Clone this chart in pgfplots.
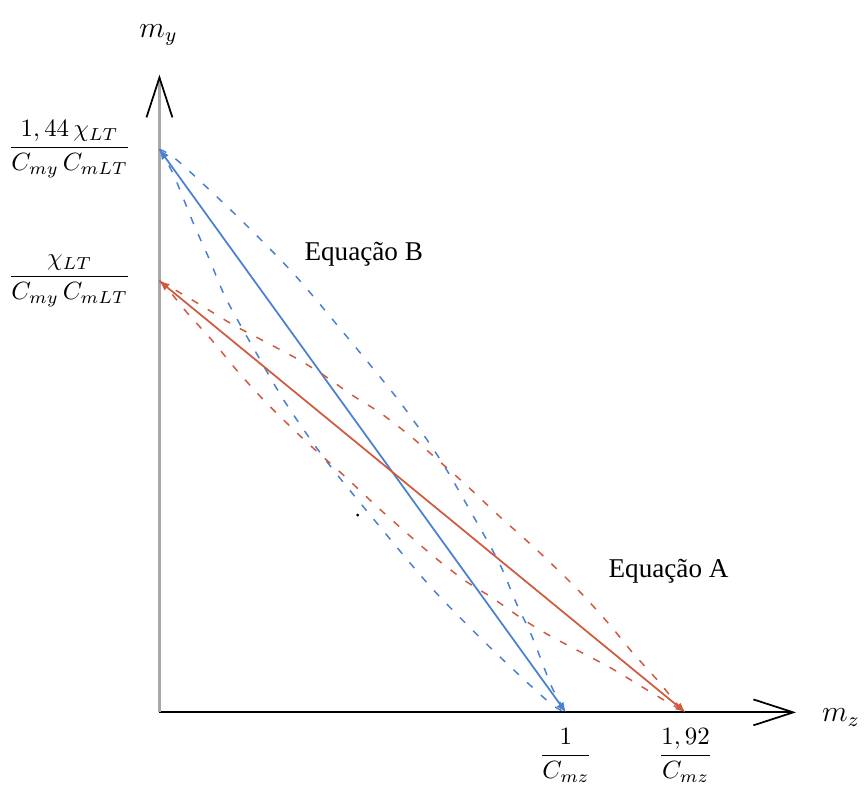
\documentclass[border=0pt]{standalone}
\usepackage{fontspec}
\setmainfont{Liberation Serif}
\usepackage{pgfplots}
\pgfplotsset{compat=1.18}
\usetikzlibrary{arrows.meta}
\definecolor{cblue}{HTML}{4A80CF}
\definecolor{cred}{HTML}{CF5A40}
\definecolor{axgray}{HTML}{A8A8A8}
\tikzset{
 solidln/.style={line width=0.7pt,arrows={Latex[length=4pt,width=3.5pt]-Latex[length=4pt,width=3.5pt]}},
 dashln/.style={line width=0.6pt,smooth,tension=0.5,dash pattern=on 3pt off 4.5pt},
 eqlabel/.style={font=\fontsize{10.9}{13}\selectfont}
}
\begin{document}
\begin{tikzpicture}
\begin{axis}[
 x=0.4pt,y=0.4pt,
 xmin=0,xmax=639,ymin=0,ymax=640,
 enlargelimits=false,clip=false,
 axis x line=bottom,axis y line=left,
 x axis line style={draw=black,line width=0.8pt,-{Straight Barb[length=16pt,width=10.4pt,line width=0.7pt]}},
 y axis line style={draw=axgray,line width=1.2pt,-{Straight Barb[length=16pt,width=10.4pt,line width=0.7pt,color=black]}},
 xtick={408,528},
 xticklabels={{$\displaystyle\frac{1}{C_{mz}}$},{$\displaystyle\frac{1,92}{C_{mz}}$}},
 ytick={433,565},
 yticklabels={{$\displaystyle\frac{\chi_{LT}}{C_{my}\,C_{mLT}}$},{$\displaystyle\frac{1,44\,\chi_{LT}}{C_{my}\,C_{mLT}}$}},
 major tick length=0pt,
 tick style={draw=none},
 xticklabel style={yshift=-3pt},
 yticklabel style={xshift=-8pt},
]
% Equacao B (blue)
\addplot[cblue,solidln] coordinates {(0,565) (408,0)};
\addplot[cblue,dashln] coordinates {(0,565) (14,540) (34,491) (50,455) (67,415) (97,361) (127,310) (167,253) (224,183) (274,124) (330,67) (390,11) (408,0)};
\addplot[cblue,dashln] coordinates {(0,565) (18,554) (78,498) (134,441) (184,382) (241,312) (281,255) (311,204) (341,150) (358,110) (374,76) (394,25) (408,0)};
% Equacao A (red)
\addplot[cred,solidln] coordinates {(0,433) (528,0)};
\addplot[cred,dashln] coordinates {(0,433) (10,423) (27,402) (54,372) (77,344) (107,311) (147,272) (187,236) (220,205) (247,181) (277,155) (307,132) (334,115) (364,94) (390,78) (420,62) (454,44) (487,24) (507,12) (528,0)};
\addplot[cred,dashln] coordinates {(0,433) (21,421) (41,409) (74,389) (108,371) (138,355) (164,339) (194,318) (221,301) (251,278) (281,252) (308,228) (341,197) (381,161) (421,122) (451,89) (474,61) (501,31) (518,10) (528,0)};
\addplot[only marks,mark=*,mark size=0.35pt,black] coordinates {(199,198)};
\node at (axis cs:-1,680) {\large $m_y$};
\node at (axis cs:684,-5) {\large $m_z$};
\node[eqlabel] at (axis cs:205,460) {Equação B};
\node[eqlabel] at (axis cs:511,142) {Equação A};
\path (axis cs:-159,-84) rectangle (axis cs:709,715);
\end{axis}
\end{tikzpicture}
\end{document}
